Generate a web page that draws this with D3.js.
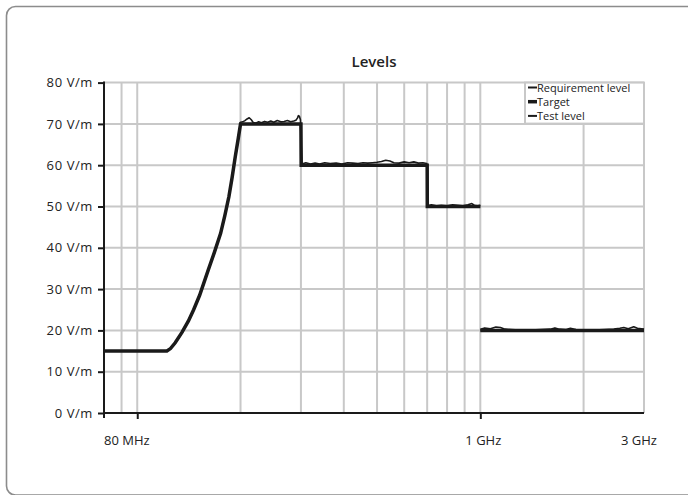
<!DOCTYPE html>
<html>
<head>
<meta charset="utf-8">
<script src="https://cdn.jsdelivr.net/npm/d3@7/dist/d3.min.js"></script>
<style>
  html, body { margin: 0; padding: 0; background: #fff; overflow: hidden; }
  svg { display: block; font-family: "Open Sans", "Noto Sans", sans-serif; }
</style>
</head>
<body>
<svg id="chart" width="688" height="495"></svg>
<script>
// ---------- data (frequencies in MHz, levels in V/m) ----------
const title = "Levels";
const seriesNames = ["Requirement level", "Target", "Test level"];

// requirement level (null = gap in the line)
const reqFreq  = [80, 122, 125, 129, 135, 141, 146, 152, 161, 168, 175, 180, 185, 189, 193, 197, 200, 300, 300.5, 700, 700.5, 1000, 1000.2, 1000.4, 3000];
const reqLevel = [15, 15, 15.6, 17, 19.5, 22.3, 25, 28.5, 34.6, 39, 43.5, 47.8, 52.4, 57, 62, 66.5, 70, 70, 60, 60, 50, 50, null, 20, 20];

// target
const targetFreq  = [80, 122, 125, 129, 135, 141, 146, 152, 161, 168, 175, 180, 185, 189, 193, 197, 200, 300, 300.5, 700, 700.5, 1000, 1000.2, 1000.4, 3000];
const targetLevel = [15, 15, 15.6, 17, 19.5, 22.3, 25, 28.5, 34.6, 39, 43.5, 47.8, 52.4, 57, 62, 66.5, 70, 70, 60, 60, 50, 50, null, 20, 20];

// measured test level
const testFreq = [80, 122, 125, 129, 135, 141, 146, 152, 161, 168, 175, 180, 185, 189, 193, 197,
  200, 203, 206, 209, 212, 215, 218, 222, 226, 230, 235, 240, 245, 250, 256, 262, 268, 274, 280, 286, 290, 293, 295, 297, 299, 301,
  302, 310, 320, 330, 340, 352, 365, 380, 395, 410, 425, 440, 455, 470, 485, 500, 515, 530, 545, 560, 580, 600, 620, 640, 660, 680, 698,
  702, 720, 745, 770, 800, 830, 860, 890, 920, 945, 960, 980, 1000,
  1000.2,
  1000.5, 1030, 1070, 1110, 1145, 1180, 1230, 1300, 1400, 1500, 1600, 1650, 1700, 1780, 1830, 1900, 2000, 2150, 2300, 2450, 2550, 2620, 2700, 2800, 2870, 2950, 3000];
const testLevel = [15, 15, 15.6, 17, 19.5, 22.3, 25, 28.5, 34.6, 39, 43.5, 47.8, 52.4, 57, 62, 66.5,
  70.4, 70.5, 70.8, 71.2, 71.5, 71.0, 70.3, 70.2, 70.5, 70.3, 70.6, 70.4, 70.7, 70.4, 70.8, 70.5, 70.6, 70.8, 70.5, 70.7, 70.9, 71.4, 72.0, 71.8, 71.0, 63,
  60.3, 60.6, 60.3, 60.5, 60.3, 60.6, 60.4, 60.5, 60.3, 60.6, 60.5, 60.4, 60.6, 60.5, 60.6, 60.7, 60.9, 61.2, 61.0, 60.6, 60.5, 60.8, 60.6, 60.8, 60.5, 60.6, 60.4,
  50.2, 50.4, 50.2, 50.3, 50.2, 50.4, 50.3, 50.2, 50.4, 50.7, 50.3, 50.2, 50.3,
  null,
  20.3, 20.6, 20.4, 20.8, 20.7, 20.3, 20.2, 20.1, 20.1, 20.2, 20.3, 20.6, 20.3, 20.2, 20.5, 20.2, 20.1, 20.1, 20.2, 20.3, 20.5, 20.7, 20.4, 20.9, 20.5, 20.4, 20.3];

const yTicks = [0, 10, 20, 30, 40, 50, 60, 70, 80];
const yTickLabels = ["0 V/m", "10 V/m", "20 V/m", "30 V/m", "40 V/m", "50 V/m", "60 V/m", "70 V/m", "80 V/m"];
const xGridFreq = [90, 100, 200, 300, 400, 500, 600, 700, 800, 900, 1000, 2000, 3000];
const xTickMarks = [100, 1000];
const xLabelFreq = [80, 1000, 3000];
const xLabels = ["80 MHz", "1 GHz", "3 GHz"];

// ---------- layout ----------
const svg = d3.select("#chart");
const plot = { left: 104, right: 644, top: 82.6, bottom: 413 };

const x = d3.scaleLog().domain([80, 3000]).range([plot.left, plot.right]);
const y = d3.scaleLinear().domain([0, 80]).range([plot.bottom, plot.top]);

// frame
svg.append("rect")
  .attr("x", 6.5).attr("y", 6.5).attr("width", 720).attr("height", 488.5)
  .attr("rx", 9).attr("ry", 9)
  .attr("fill", "#fff").attr("stroke", "#8c8c8c").attr("stroke-width", 1.6);

// title
svg.append("text")
  .attr("x", (plot.left + plot.right) / 2).attr("y", 67)
  .attr("text-anchor", "middle")
  .attr("font-size", 15).attr("font-weight", 600).attr("fill", "#222")
  .text(title);

// grid
const grid = svg.append("g").attr("stroke", "#c8c8c8").attr("stroke-width", 2);
grid.selectAll("line.v").data(xGridFreq).join("line")
  .attr("x1", d => x(d)).attr("x2", d => x(d))
  .attr("y1", plot.top).attr("y2", plot.bottom);
grid.selectAll("line.h").data(yTicks.filter(d => d > 0)).join("line")
  .attr("x1", plot.left).attr("x2", plot.right)
  .attr("y1", d => y(d)).attr("y2", d => y(d));

// y axis
const yAxis = d3.axisLeft(y).tickValues(yTicks).tickSize(6).tickPadding(5)
  .tickFormat((d, i) => yTickLabels[i]);
const gy = svg.append("g").attr("transform", `translate(${plot.left},0)`).call(yAxis);
gy.select(".domain").remove();
gy.selectAll(".tick line").attr("stroke", "#1a1a1a").attr("stroke-width", 2);
gy.selectAll(".tick text").attr("font-size", 13).attr("fill", "#222")
  .attr("letter-spacing", "0.6px")
  .attr("font-family", "'Open Sans', sans-serif");
svg.append("line")
  .attr("x1", plot.left).attr("x2", plot.left)
  .attr("y1", plot.top - 1).attr("y2", plot.bottom + 5)
  .attr("stroke", "#1a1a1a").attr("stroke-width", 2);

// x axis
const xAxis = d3.axisBottom(x).tickValues(xTickMarks).tickSize(6).tickFormat("");
const gx = svg.append("g").attr("transform", `translate(0,${plot.bottom})`).call(xAxis);
gx.select(".domain").remove();
gx.selectAll(".tick line").attr("stroke", "#1a1a1a").attr("stroke-width", 2);
svg.append("line")
  .attr("x1", plot.left - 1).attr("x2", plot.right)
  .attr("y1", plot.bottom).attr("y2", plot.bottom)
  .attr("stroke", "#1a1a1a").attr("stroke-width", 2);

svg.append("g").selectAll("text").data(xLabelFreq).join("text")
  .attr("x", (d, i) => i === 0 ? x(d) : x(d) - (i === 2 ? 5 : -3))
  .attr("y", 445)
  .attr("text-anchor", (d, i) => i === 0 ? "start" : "middle")
  .attr("font-size", 13).attr("fill", "#222")
  .text((d, i) => xLabels[i]);

// lines
const mkLine = (fr, lv) => {
  const pts = fr.map((f, i) => [f, lv[i]]);
  return d3.line().defined(d => d[1] !== null)
    .x(d => x(d[0])).y(d => y(d[1]))(pts);
};
svg.append("path").attr("d", mkLine(testFreq, testLevel))
  .attr("fill", "none").attr("stroke", "#1a1a1a").attr("stroke-width", 1.6)
  .attr("stroke-linejoin", "round");
svg.append("path").attr("d", mkLine(reqFreq, reqLevel))
  .attr("fill", "none").attr("stroke", "#1a1a1a").attr("stroke-width", 2);
svg.append("path").attr("d", mkLine(targetFreq, targetLevel))
  .attr("fill", "none").attr("stroke", "#1a1a1a").attr("stroke-width", 3.5);

// legend
const lg = svg.append("g");
lg.append("rect").attr("x", 525).attr("y", plot.top).attr("width", plot.right - 525).attr("height", 41)
  .attr("fill", "#fff").attr("stroke", "#c8c8c8").attr("stroke-width", 2);
const legendWidths = [2, 3.5, 2];
seriesNames.forEach((name, i) => {
  const cy = 87.5 + i * 14.2;
  lg.append("line").attr("x1", 528).attr("x2", 537).attr("y1", cy).attr("y2", cy)
    .attr("stroke", "#1a1a1a").attr("stroke-width", legendWidths[i]);
  lg.append("text").attr("x", 537).attr("y", cy + 4)
    .attr("font-size", 11).attr("fill", "#222").text(name);
});
</script>
</body>
</html>
